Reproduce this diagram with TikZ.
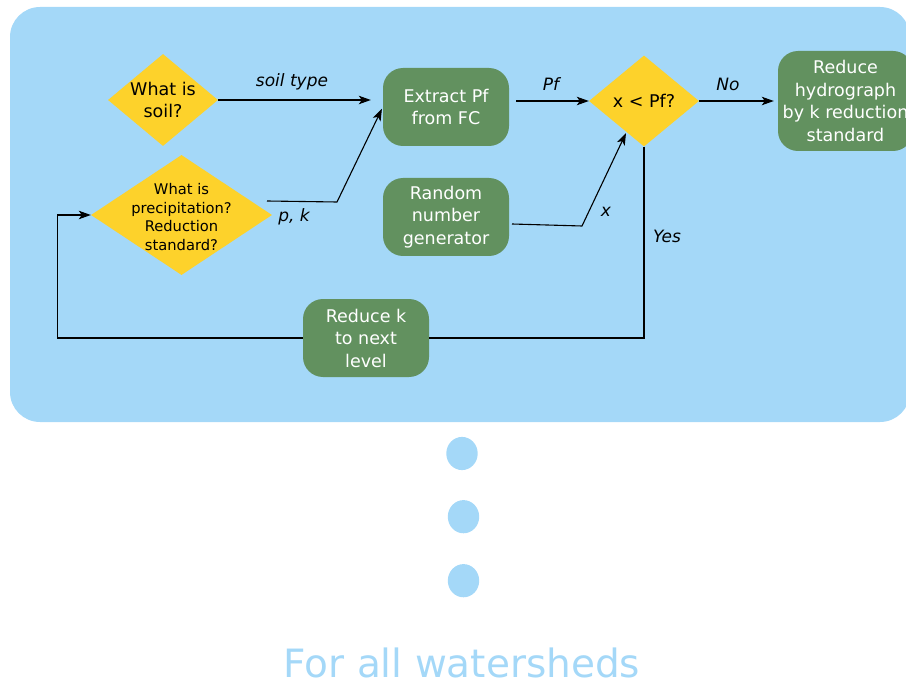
\documentclass[tikz,border=0pt]{standalone}
\usepackage{fontspec}
\setmainfont{DejaVu Sans}
\usetikzlibrary{shapes.geometric,arrows.meta}
\definecolor{panelblue}{RGB}{164,216,248}
\definecolor{decisionyellow}{RGB}{253,210,43}
\definecolor{processgreen}{RGB}{98,145,95}
\begin{document}
\begin{tikzpicture}[x=1pt,y=-1pt,
  every node/.style={font=\fontsize{17.5}{22.5}\selectfont},
  decision/.style={diamond, fill=decisionyellow, draw=none, inner sep=0pt},
  dtext/.style={align=center, text=black},
  process/.style={rectangle, rounded corners=20pt, fill=processgreen,
    text=white, align=center, inner sep=0pt},
  flow/.style={draw=black, line width=1.1pt,
    -{Stealth[length=12pt,width=8.5pt,inset=3pt]}},
  plain/.style={draw=black, line width=1.1pt},
  edgelabel/.style={font=\itshape\fontsize{17}{20}\selectfont, text=black}
]
\useasboundingbox (0,0) rectangle (906,682);
\clip (0,0) rectangle (906,682);

% panel behind the flow chart
\fill[panelblue, rounded corners=30pt] (10,7) rectangle (910,422);

% decisions
\node[decision, minimum width=110pt, minimum height=92pt,
  label={[dtext]center:{What is\\soil?}}] (soil) at (163,100) {};
\node[decision, minimum width=181pt, minimum height=120pt,
  label={[dtext, font=\fontsize{14.7}{18.5}\selectfont, yshift=-2pt]center:{What is\\precipitation?\\Reduction\\standard?}}]
  (precip) at (181.5,215) {};
\node[decision, minimum width=110pt, minimum height=91pt,
  label={[dtext]center:{x < Pf?}}] (test) at (644,101) {};

% processes
\node[process, minimum width=126pt, minimum height=78pt] (extract) at (446,107) {Extract Pf\\from FC};
\node[process, minimum width=126pt, minimum height=78pt] (random) at (446,217) {Random\\number\\generator};
\node[process, minimum width=135pt, minimum height=100pt] (hydro) at (845.5,101) {Reduce\\hydrograph\\by k reduction\\standard};
\node[process, minimum width=126pt, minimum height=78pt] (reducek) at (366,338) {Reduce k\\to next\\level};

% free connector ends
\coordinate (pkStart) at (267,201);
\coordinate (pkBend) at (337,202);
\coordinate (pfStart) at (516,101);
\coordinate (xStart) at (512,224);
\coordinate (xBend) at (582,226);
\coordinate (xIn) at (626,133);

% connectors
\draw[flow, shorten >=12pt] (soil.east) -- (soil.east -| extract.west);
\draw[flow, shorten >=2pt] (pkStart) -- (pkBend) -- (extract.west);
\draw[flow] (pfStart) -- (test.west);
\draw[flow] (xStart) -- (xBend) -- (xIn);
\draw[flow, shorten >=4pt] (test.east) -- (hydro.west);
\draw[plain] (test.south) -- (test.south |- reducek.east) -- (reducek.east);
\draw[flow] (reducek.west) -- ++(-245,0) |- (precip.west);

% connector labels
\node[edgelabel] (lsoil) at (292,82) {soil type};
\node[edgelabel] (lpk) at (294,217) {p, k};
\node[edgelabel] (lpf) at (551,84) {Pf};
\node[edgelabel] (lx) at (606,212) {x};
\node[edgelabel] (lno) at (728,84) {No};
\node[edgelabel] (lyes) at (667,236) {Yes};

% continuation dots and caption
\fill[panelblue] (462,453.5) ellipse [x radius=15.7pt, y radius=16.6pt];
\fill[panelblue] (463.5,516.7) ellipse [x radius=15.7pt, y radius=16.6pt];
\fill[panelblue] (463.5,580.7) ellipse [x radius=15.7pt, y radius=16.6pt];
\node[anchor=base, text=panelblue, font=\fontsize{39}{46}\selectfont] (caption) at (462,677) {For all watersheds};
\end{tikzpicture}
\end{document}
